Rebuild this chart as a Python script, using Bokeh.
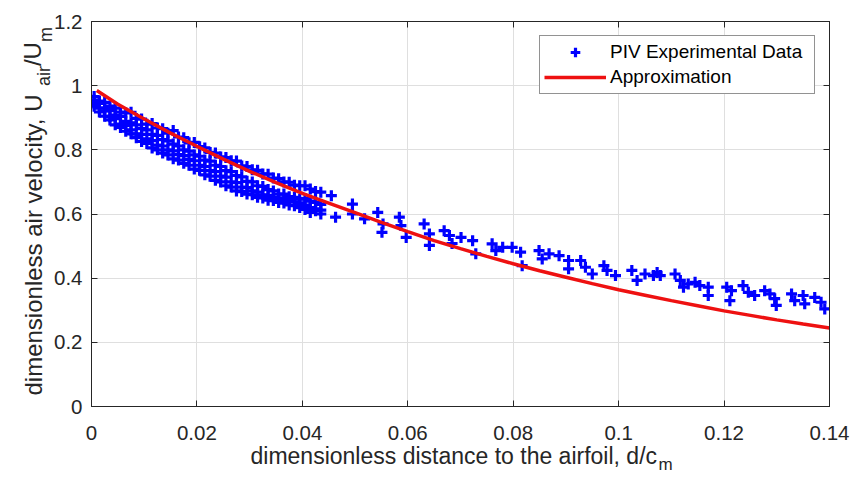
import math
from bokeh.plotting import figure
from bokeh.models import (Range1d, FixedTicker, LinearAxis, Legend, LegendItem, Title,
                          Label, CustomJSTickFormatter, ColumnDataSource, CustomLabelingPolicy)
from bokeh.embed import file_html
from bokeh.resources import INLINE

# ---------------- data ----------------
x_ticks = [0, 0.02, 0.04, 0.06, 0.08, 0.1, 0.12, 0.14]
y_ticks = [0, 0.2, 0.4, 0.6, 0.8, 1, 1.2]

# dense PIV region, columns with four readings each
near_x = [0.0005, 0.0015, 0.0025, 0.0035, 0.0045, 0.0055, 0.0065, 0.0075, 0.0085, 0.0095,
          0.0105, 0.0115, 0.0125, 0.0135, 0.0145, 0.0155, 0.0165, 0.0175, 0.0185, 0.0195,
          0.0205, 0.0215, 0.0225, 0.0235, 0.0245, 0.0255, 0.0265, 0.0275, 0.0285, 0.0295,
          0.0305, 0.0315, 0.0325, 0.0335, 0.0345, 0.0355, 0.0365, 0.0375, 0.0385, 0.0395,
          0.0405, 0.0415, 0.0425, 0.0435]
near_a = [0.966, 0.952, 0.948, 0.936, 0.930, 0.918, 0.915, 0.917, 0.898, 0.896,
          0.880, 0.882, 0.868, 0.866, 0.852, 0.860, 0.840, 0.838, 0.822, 0.823,
          0.810, 0.806, 0.792, 0.790, 0.778, 0.776, 0.766, 0.765, 0.750, 0.748,
          0.738, 0.736, 0.725, 0.724, 0.712, 0.710, 0.700, 0.699, 0.690, 0.688,
          0.688, 0.678, 0.670, 0.668]
near_b = [0.955, 0.945, 0.930, 0.922, 0.908, 0.904, 0.889, 0.884, 0.878, 0.866,
          0.862, 0.848, 0.845, 0.832, 0.828, 0.818, 0.812, 0.800, 0.796, 0.784,
          0.780, 0.768, 0.765, 0.752, 0.748, 0.735, 0.732, 0.720, 0.716, 0.702,
          0.700, 0.688, 0.686, 0.676, 0.672, 0.662, 0.662, 0.654, 0.652, 0.646,
          0.648, 0.640, 0.636, 0.630]
near_c = [0.944, 0.930, 0.921, 0.903, 0.897, 0.880, 0.876, 0.862, 0.850, 0.848,
          0.834, 0.829, 0.815, 0.812, 0.800, 0.797, 0.785, 0.782, 0.770, 0.766,
          0.752, 0.748, 0.735, 0.732, 0.718, 0.715, 0.700, 0.698, 0.684, 0.682,
          0.672, 0.668, 0.660, 0.658, 0.652, 0.650, 0.645, 0.642, 0.638, 0.635,
          0.628, 0.620, 0.616, 0.612]
near_d = [0.936, 0.918, 0.905, 0.893, 0.878, 0.870, 0.858, 0.850, 0.838, 0.826,
          0.820, 0.806, 0.800, 0.790, 0.784, 0.772, 0.768, 0.758, 0.752, 0.740,
          0.736, 0.722, 0.718, 0.705, 0.700, 0.688, 0.684, 0.672, 0.670, 0.662,
          0.660, 0.652, 0.650, 0.643, 0.642, 0.636, 0.634, 0.628, 0.626, 0.620,
          0.614, 0.605, 0.610, 0.600]

# sparser PIV region
far_x = [0.0455, 0.0463, 0.0495, 0.0495, 0.0518, 0.0543, 0.0553, 0.0551, 0.0584, 0.0587,
         0.0597, 0.0631, 0.0641, 0.0641, 0.0669, 0.0679, 0.0684, 0.0701, 0.0723, 0.0729,
         0.0760, 0.0767, 0.0780, 0.0798, 0.0814, 0.0817, 0.0849, 0.0855, 0.0868, 0.0887,
         0.0905, 0.0905, 0.0928, 0.0937, 0.0950, 0.0972, 0.0978, 0.0994, 0.1025, 0.1035,
         0.1050, 0.1066, 0.1073, 0.1079, 0.1107, 0.1117, 0.1123, 0.1132, 0.1145, 0.1154,
         0.1170, 0.1170, 0.1205, 0.1214, 0.1211, 0.1236, 0.1246, 0.1258, 0.1277, 0.1287,
         0.1296, 0.1299, 0.1328, 0.1334, 0.1350, 0.1353, 0.1372, 0.1384, 0.1391]
far_y = [0.657, 0.590, 0.631, 0.600, 0.585, 0.605, 0.569, 0.543, 0.590, 0.564,
         0.527, 0.569, 0.538, 0.502, 0.548, 0.533, 0.508, 0.527, 0.517, 0.476,
         0.507, 0.486, 0.496, 0.496, 0.481, 0.439, 0.486, 0.460, 0.476, 0.470,
         0.455, 0.429, 0.455, 0.434, 0.413, 0.439, 0.424, 0.408, 0.424, 0.393,
         0.413, 0.408, 0.418, 0.408, 0.413, 0.393, 0.372, 0.382, 0.387, 0.377,
         0.372, 0.346, 0.372, 0.361, 0.330, 0.377, 0.356, 0.346, 0.361, 0.351,
         0.336, 0.315, 0.351, 0.330, 0.346, 0.320, 0.340, 0.325, 0.304]

# approximation curve
approx_x = [0.001, 0.005, 0.01, 0.015, 0.02, 0.025, 0.03, 0.035, 0.04, 0.045,
            0.05, 0.055, 0.06, 0.065, 0.07, 0.075, 0.08, 0.085, 0.09, 0.095,
            0.1, 0.105, 0.11, 0.115, 0.12, 0.125, 0.13, 0.135, 0.14]
approx_y = [0.985, 0.942, 0.896, 0.852, 0.811, 0.771, 0.733, 0.698, 0.664, 0.634,
            0.604, 0.574, 0.545, 0.517, 0.492, 0.468, 0.445, 0.423, 0.403, 0.383,
            0.364, 0.347, 0.330, 0.314, 0.298, 0.284, 0.270, 0.257, 0.245]

piv_x = near_x + near_x + near_x + near_x + far_x
piv_y = near_a + near_b + near_c + near_d + far_y

# ---------------- styling ----------------
FONT = "Liberation Sans"
DARK = "#262626"

p = figure(width=853, height=480, output_backend="svg", toolbar_location=None,
           x_range=Range1d(0, 0.14), y_range=Range1d(0, 1.2))
p.min_border_left = 91
p.min_border_right = 23
p.min_border_top = 21
p.min_border_bottom = 74
p.outline_line_color = DARK
p.background_fill_color = "white"
p.border_fill_color = "white"

fmt = CustomJSTickFormatter(code="return String(tick);")
for ax in p.xaxis:
    ax.ticker = FixedTicker(ticks=x_ticks)
    ax.formatter = fmt
    ax.major_label_standoff = 19
for ax in p.yaxis:
    ax.ticker = FixedTicker(ticks=y_ticks)
    ax.formatter = fmt
    ax.major_label_standoff = 9
for ax in p.xaxis + p.yaxis:
    ax.major_tick_in = 6
    ax.major_tick_out = 0
    ax.minor_tick_line_color = None
    ax.axis_line_color = DARK
    ax.major_tick_line_color = DARK
    ax.major_label_text_color = DARK
    ax.major_label_text_font = FONT
    ax.major_label_text_font_size = "20.5px"

# box axes (top / right) with inward ticks and no labels
no_labels = CustomLabelingPolicy(code="""
    for (const i of indices) { indices.unset(i) }
    return indices
""")
top_ax = LinearAxis(ticker=FixedTicker(ticks=x_ticks), major_label_text_font_size="1px",
                    major_label_policy=no_labels,
                    major_label_standoff=0, major_tick_in=6, major_tick_out=0,
                    minor_tick_line_color=None, axis_line_color=DARK, major_tick_line_color=DARK)
right_ax = LinearAxis(ticker=FixedTicker(ticks=y_ticks), major_label_text_font_size="1px",
                      major_label_policy=no_labels,
                      major_label_standoff=0, major_tick_in=6, major_tick_out=0,
                      minor_tick_line_color=None, axis_line_color=DARK, major_tick_line_color=DARK)
p.add_layout(top_ax, "above")
p.add_layout(right_ax, "right")

p.xgrid.grid_line_color = "#dfdfdf"
p.ygrid.grid_line_color = "#dfdfdf"
p.xgrid.ticker = FixedTicker(ticks=x_ticks)
p.ygrid.ticker = FixedTicker(ticks=y_ticks)

src = ColumnDataSource(data=dict(x=piv_x, y=piv_y))
sc = p.scatter("x", "y", source=src, marker="cross", size=11, line_width=3.2,
               line_color="#0000ff")
ln = p.line(approx_x, approx_y, line_color="#ee1111", line_width=3.5)

legend = Legend(items=[LegendItem(label="PIV Experimental Data", renderers=[sc]),
                       LegendItem(label="Approximation", renderers=[ln])],
                location=(448, 312), orientation="vertical",
                padding=4, margin=0, spacing=1, glyph_width=62, glyph_height=24,
                label_height=24, label_width=200, label_standoff=4,
                label_text_font=FONT, label_text_font_size="19px", label_text_color="black",
                border_line_color=DARK, border_line_width=1,
                background_fill_color="white", background_fill_alpha=1)
p.add_layout(legend, "center")

# ---------------- axis titles with subscripts ----------------
XLBL, XSUB = "23px", "17px"
YLBL, YSUB = "24px", "18px"

def title(text, size, offset, valign, standoff):
    return Title(text=text, align="left", offset=offset, vertical_align=valign,
                 standoff=standoff, text_font=FONT, text_font_size=size,
                 text_font_style="normal", text_color=DARK)

# x label (below the axis)
p.add_layout(title("dimensionless distance to the airfoil, d/c", XLBL, 159, "middle", -1.7), "below")
p.add_layout(title("m", XSUB, 567, "top", -26.5), "below")

# y label (left of the axis)
p.add_layout(title("air", YSUB, 320.4, "bottom", -4.2), "left")
p.add_layout(title("dimensionless air velocity, U", YLBL, 11, "bottom", -27.6), "left")
p.add_layout(title("/U", YLBL, 340.4, "bottom", -27.6), "left")
p.add_layout(Label(x=-788, y=364.4, x_units="screen", y_units="screen", text="m",
                   angle=math.pi / 2, text_font=FONT, text_font_size=YSUB, text_color=DARK,
                   text_align="left", text_baseline="alphabetic"), "right")

open("out.html", "w").write(file_html(p, INLINE))
